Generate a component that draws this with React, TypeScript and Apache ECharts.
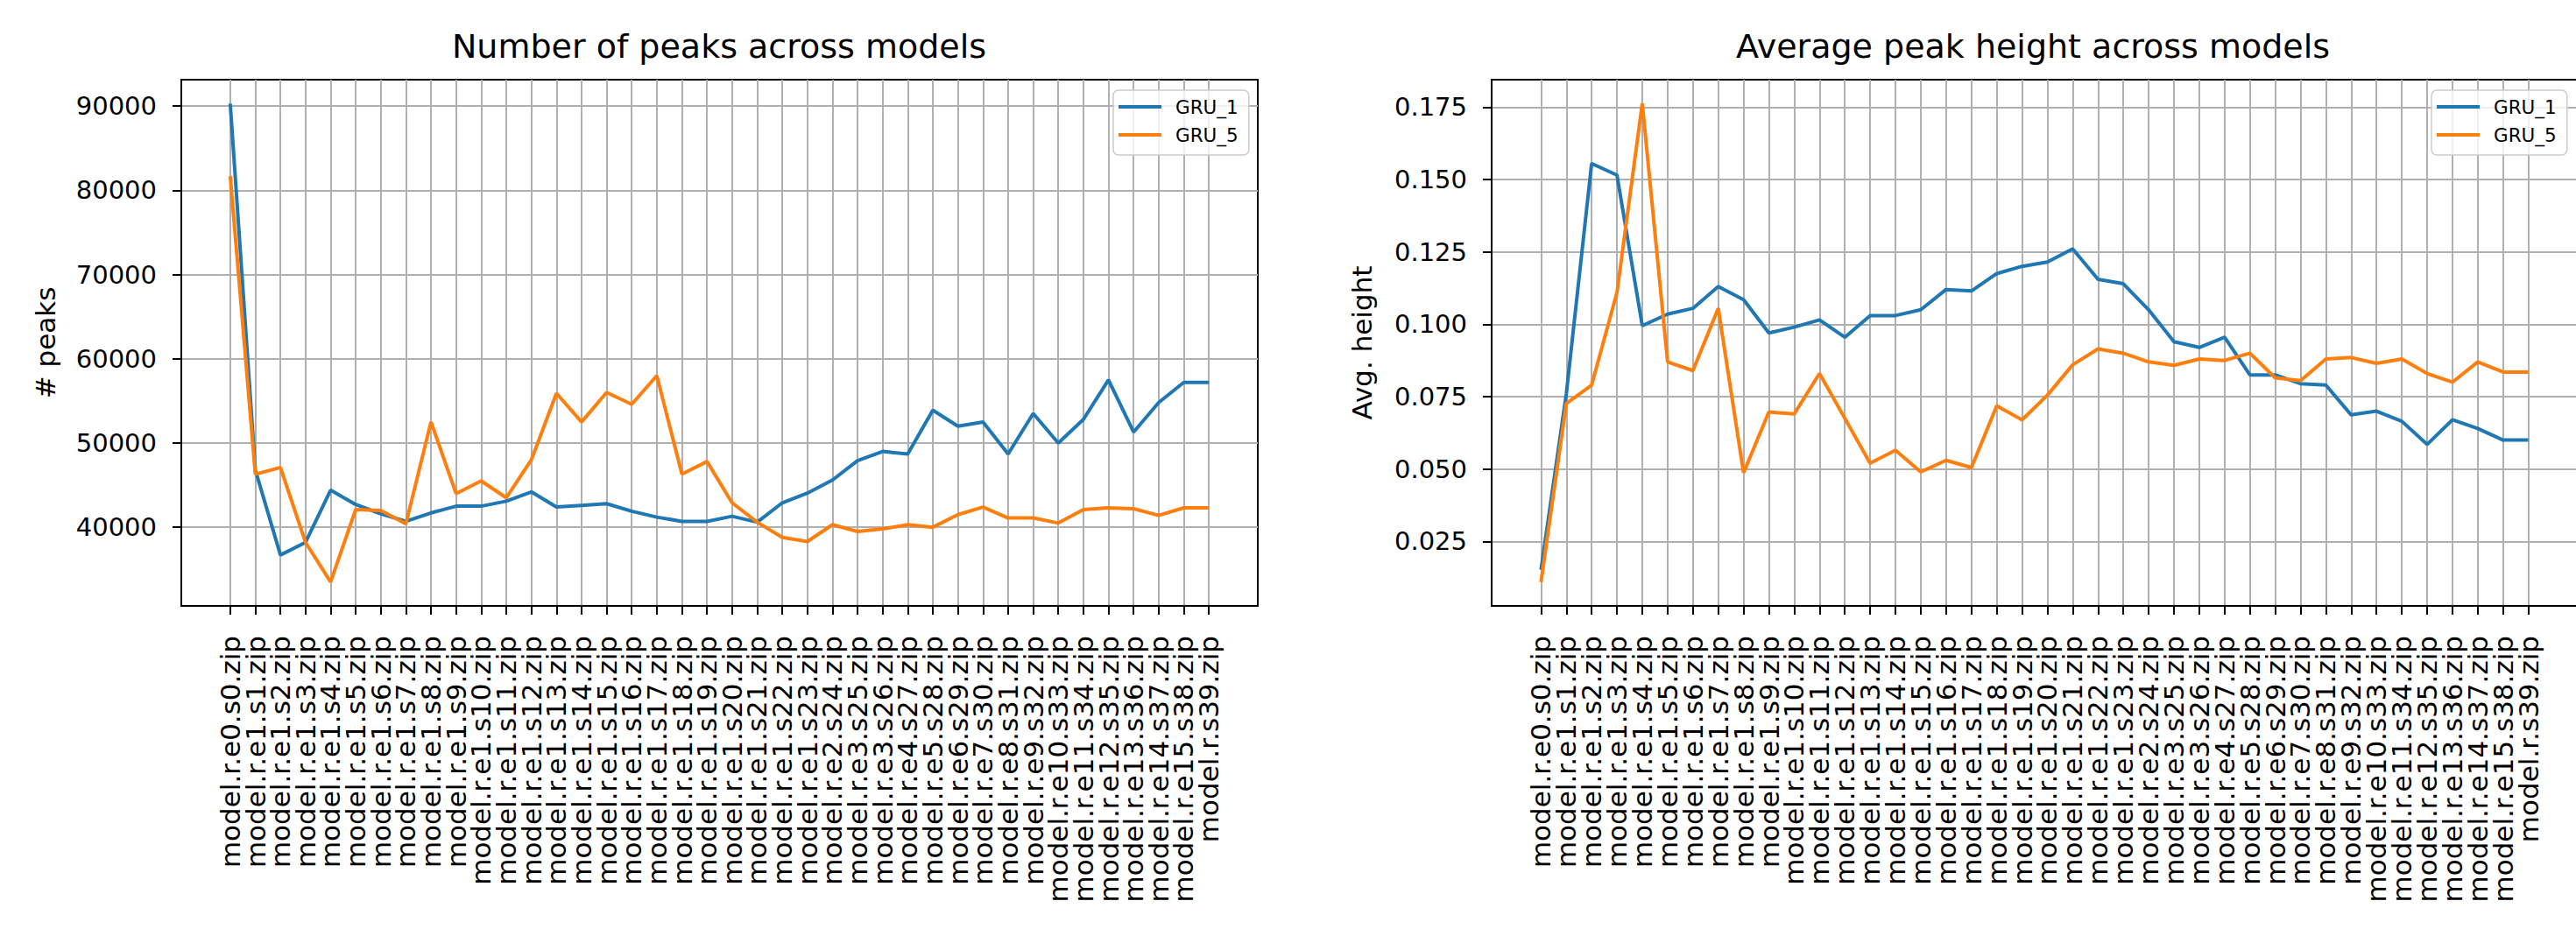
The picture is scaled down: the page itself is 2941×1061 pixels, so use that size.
import React, { useEffect, useRef } from 'react';
import * as echarts from 'echarts';

const categories = [
  'model.r.e0.s0.zip', 'model.r.e1.s1.zip', 'model.r.e1.s2.zip', 'model.r.e1.s3.zip', 'model.r.e1.s4.zip',
  'model.r.e1.s5.zip', 'model.r.e1.s6.zip', 'model.r.e1.s7.zip', 'model.r.e1.s8.zip', 'model.r.e1.s9.zip',
  'model.r.e1.s10.zip', 'model.r.e1.s11.zip', 'model.r.e1.s12.zip', 'model.r.e1.s13.zip', 'model.r.e1.s14.zip',
  'model.r.e1.s15.zip', 'model.r.e1.s16.zip', 'model.r.e1.s17.zip', 'model.r.e1.s18.zip', 'model.r.e1.s19.zip',
  'model.r.e1.s20.zip', 'model.r.e1.s21.zip', 'model.r.e1.s22.zip', 'model.r.e1.s23.zip', 'model.r.e2.s24.zip',
  'model.r.e3.s25.zip', 'model.r.e3.s26.zip', 'model.r.e4.s27.zip', 'model.r.e5.s28.zip', 'model.r.e6.s29.zip',
  'model.r.e7.s30.zip', 'model.r.e8.s31.zip', 'model.r.e9.s32.zip', 'model.r.e10.s33.zip', 'model.r.e11.s34.zip',
  'model.r.e12.s35.zip', 'model.r.e13.s36.zip', 'model.r.e14.s37.zip', 'model.r.e15.s38.zip', 'model.r.s39.zip',
];

const peaksGRU1 = [
  90300, 46800, 36700, 38200, 44400, 42700, 41600, 40700, 41700, 42500,
  42500, 43100, 44200, 42400, 42600, 42800, 41900, 41200, 40700, 40700,
  41300, 40600, 42900, 44050, 45600, 47900, 49000, 48700, 53900, 52000,
  52500, 48700, 53500, 50000, 52800, 57500, 51300, 54800, 57200, 57200,
];
const peaksGRU5 = [
  81700, 46300, 47100, 38200, 33500, 42100, 42000, 40400, 52500, 44000,
  45500, 43500, 48000, 55900, 52500, 56000, 54600, 58000, 46300, 47800,
  42900, 40600, 38800, 38300, 40300, 39500, 39800, 40300, 40000, 41500,
  42400, 41100, 41100, 40500, 42100, 42300, 42200, 41400, 42300, 42300,
];
const heightGRU1 = [
  0.0152, 0.076, 0.1555, 0.1515, 0.0995, 0.1035, 0.1055, 0.113, 0.1085, 0.097,
  0.099, 0.1015, 0.0955, 0.103, 0.103, 0.105, 0.112, 0.1115, 0.1175, 0.12,
  0.1215, 0.126, 0.1155, 0.114, 0.105, 0.094, 0.092, 0.0955, 0.0825, 0.0825,
  0.0795, 0.079, 0.0687, 0.07, 0.0665, 0.0585, 0.067, 0.064, 0.06, 0.06,
];
const heightGRU5 = [
  0.011, 0.0726, 0.079, 0.111, 0.1762, 0.087, 0.084, 0.1055, 0.0487, 0.0697,
  0.069, 0.083, 0.0675, 0.052, 0.0565, 0.049, 0.053, 0.0505, 0.0718, 0.067,
  0.0755, 0.086, 0.0915, 0.09, 0.087, 0.0858, 0.088, 0.0875, 0.09, 0.0815,
  0.0805, 0.088, 0.0885, 0.0865, 0.088, 0.083, 0.08, 0.087, 0.0835, 0.0835,
];

const peakTicks = [40000, 50000, 60000, 70000, 80000, 90000];
const heightTicks = [0.025, 0.05, 0.075, 0.1, 0.125, 0.15, 0.175];
const seriesNames = ['GRU_1', 'GRU_5'];
const colors = ['#1f77b4', '#ff7f0e'];

const FONT = 'DejaVu Sans';

function paddedRange(arrays: number[][]) {
  const all = arrays.flat();
  const lo = Math.min(...all);
  const hi = Math.max(...all);
  const m = (hi - lo) * 0.05;
  return [lo - m, hi + m];
}

export default function App() {
  const ref = useRef<HTMLDivElement>(null);

  useEffect(() => {
    if (!ref.current) return;
    const chart = echarts.init(ref.current, null, { renderer: 'svg' });
    const idx = categories.map((_, i) => i);
    const xMin = -0.05 * (categories.length - 1);
    const xMax = categories.length - 1 + 0.05 * (categories.length - 1);
    // blank guard labels at the axis ends keep every real label visible
    const labelValues = [xMin, ...idx, xMax];
    const [pMin, pMax] = paddedRange([peaksGRU1, peaksGRU5]);
    const [hMin, hMax] = paddedRange([heightGRU1, heightGRU5]);

    const black = '#000000';
    const gridColor = '#b0b0b0';

    const makeX = (gridIndex: number) => ({
      gridIndex,
      type: 'value',
      min: xMin,
      max: xMax,
      axisLine: { show: true, onZero: false, lineStyle: { color: black, width: 2 } },
      axisTick: { show: true, customValues: idx, length: 10, lineStyle: { color: black, width: 2 } },
      axisLabel: {
        customValues: labelValues,
        rotate: 90,
        margin: 34,
        fontSize: 31,
        lineHeight: 22,
        fontFamily: FONT,
        color: black,
        showMinLabel: true,
        showMaxLabel: true,
        hideOverlap: false,
        formatter: (v: number) => {
          const r = Math.round(v);
          return Math.abs(v - r) < 1e-6 && categories[r] ? categories[r] : ' ';
        },
      },
      splitLine: { show: true, lineStyle: { color: gridColor, width: 2 } },
      name: 'Models',
      nameLocation: 'middle',
      nameGap: 378,
      nameTextStyle: { fontSize: 30, fontFamily: FONT, color: black },
    });

    const makeY = (gridIndex: number, min: number, max: number, ticks: number[], name: string, fmt: (v: number) => string, nameGap: number) => ({
      gridIndex,
      type: 'value',
      min,
      max,
      axisLine: { show: true, onZero: false, lineStyle: { color: black, width: 2 } },
      axisTick: { show: true, customValues: ticks, length: 10, lineStyle: { color: black, width: 2 } },
      axisLabel: { customValues: ticks, margin: 28, fontSize: 29, fontFamily: FONT, color: black, formatter: fmt, showMinLabel: true, showMaxLabel: true },
      splitLine: { show: true, lineStyle: { color: gridColor, width: 2 } },
      name,
      nameLocation: 'middle',
      nameGap,
      nameRotate: 90,
      nameTextStyle: { fontSize: 31, fontFamily: FONT, color: black },
    });

    const titleStyle = { fontSize: 38, fontWeight: 'normal', fontFamily: FONT, color: black };
    const legendBase = {
      data: seriesNames,
      orient: 'vertical',
      icon: 'rect',
      itemWidth: 49,
      itemHeight: 4,
      itemGap: 10,
      padding: [8, 12, 12, 6],
      backgroundColor: 'rgba(255,255,255,0.8)',
      borderColor: '#cccccc',
      borderWidth: 1.5,
      borderRadius: 6,
      textStyle: { fontSize: 21.5, fontFamily: FONT, color: black, padding: [0, 0, 0, 11] },
    };

    const mkSeries = (name: string, color: string, values: number[], gi: number) => ({
      name,
      type: 'line',
      xAxisIndex: gi,
      yAxisIndex: gi,
      data: values.map((v, i) => [i, v]),
      symbol: 'none',
      lineStyle: { color, width: 4 },
      itemStyle: { color },
      z: 3,
    });

    const gridBase = {
      top: 91,
      height: 601,
      show: true,
      borderColor: black,
      borderWidth: 2,
      backgroundColor: 'transparent',
      containLabel: false,
      outerBoundsMode: 'none',
    };

    chart.setOption({
      animation: false,
      backgroundColor: '#ffffff',
      title: [
        { text: 'Number of peaks across models', left: 821, top: 34, textAlign: 'center', padding: 0, textStyle: titleStyle },
        { text: 'Average peak height across models', left: 2321, top: 34, textAlign: 'center', padding: 0, textStyle: titleStyle },
      ],
      legend: [
        { ...legendBase, left: 1271, top: 103 },
        { ...legendBase, left: 2776, top: 103 },
      ],
      grid: [
        { ...gridBase, left: 207, width: 1229 },
        { ...gridBase, left: 1703, width: 1240 },
      ],
      xAxis: [makeX(0), makeX(1)],
      yAxis: [
        makeY(0, pMin, pMax, peakTicks, '# peaks', (v: number) => String(Math.round(v)), 140),
        makeY(1, hMin, hMax, heightTicks, 'Avg. height', (v: number) => v.toFixed(3), 133),
      ],
      series: [
        mkSeries(seriesNames[0], colors[0], peaksGRU1, 0),
        mkSeries(seriesNames[1], colors[1], peaksGRU5, 0),
        mkSeries(seriesNames[0], colors[0], heightGRU1, 1),
        mkSeries(seriesNames[1], colors[1], heightGRU5, 1),
      ],
    });
    return () => chart.dispose();
  }, []);

  return (
    <div
      ref={ref}
      style={{ position: 'absolute', left: 0, top: 0, width: 2941, height: 1061, background: '#fff' }}
    />
  );
}
